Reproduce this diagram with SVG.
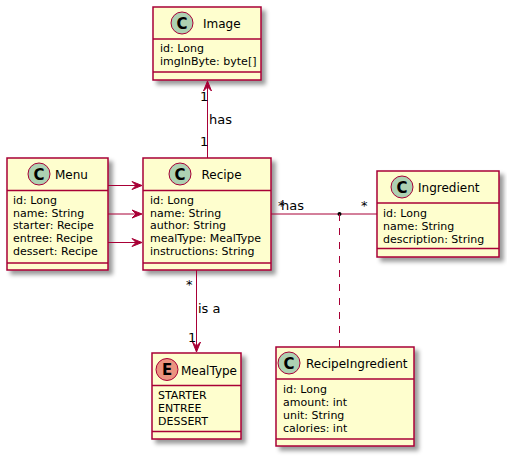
<svg xmlns="http://www.w3.org/2000/svg" width="507" height="459" viewBox="0 0 507 459">
<defs>
<filter id="sh" x="-1" y="-1" width="300%" height="300%"><feGaussianBlur result="b1" stdDeviation="2"/><feColorMatrix type="matrix" in="b1" result="b2" values="0 0 0 0 0 0 0 0 0 0 0 0 0 0 0 0 0 0 .4 0"/><feOffset dx="4" dy="4" in="b2" result="b3"/><feBlend in="SourceGraphic" in2="b3" mode="normal"/></filter>
<style>
.box{fill:#FEFECE;stroke:#A80036;stroke-width:1.5;filter:url(#sh)}
.sep{stroke:#A80036;stroke-width:1.5}
.ci{fill:#ADD1B2;stroke:#A80036;stroke-width:1}
.ce{fill:#EB937F;stroke:#A80036;stroke-width:1}
.cl{font-family:"DejaVu Sans",sans-serif;font-size:15px;font-weight:bold;text-anchor:middle;fill:#000}
.nm{font-family:"DejaVu Sans",sans-serif;font-size:12px;fill:#000}
.at{font-family:"DejaVu Sans",sans-serif;font-size:11px;fill:#000}
.ln{stroke:#A80036;stroke-width:1;fill:none}
.dl{stroke:#A80036;stroke-width:1;fill:none;stroke-dasharray:7,7}
.ah{fill:#A80036;stroke:#A80036;stroke-width:1}
.lb{font-family:"DejaVu Sans",sans-serif;font-size:13px;fill:#000}
.ml{font-family:"DejaVu Sans",sans-serif;font-size:13px;fill:#000}
</style>
</defs>
<rect width="507" height="459" fill="#FFFFFF"/>

<g id="Image">
<rect class="box" x="153" y="7" width="108" height="73"/>
<circle class="ci" cx="182" cy="23" r="11"/>
<text class="cl" x="182" y="28.5">C</text>
<text class="nm" x="203" y="28">Image</text>
<line class="sep" x1="153" y1="39" x2="261" y2="39"/>
<text class="at" x="160" y="52">id: Long</text>
<text class="at" x="160" y="65">imgInByte: byte[]</text>
<line class="sep" x1="153" y1="72" x2="261" y2="72"/>
</g>

<g id="Menu">
<rect class="box" x="7" y="158" width="101" height="112"/>
<circle class="ci" cx="39" cy="174" r="11"/>
<text class="cl" x="39" y="179.5">C</text>
<text class="nm" x="55" y="179">Menu</text>
<line class="sep" x1="7" y1="190.5" x2="108" y2="190.5"/>
<text class="at" x="13" y="203.5">id: Long</text>
<text class="at" x="13" y="216.5">name: String</text>
<text class="at" x="13" y="229.4">starter: Recipe</text>
<text class="at" x="13" y="242.4">entree: Recipe</text>
<text class="at" x="13" y="255.3">dessert: Recipe</text>
<line class="sep" x1="7" y1="263" x2="108" y2="263"/>
</g>

<g id="Recipe">
<rect class="box" x="143" y="158" width="128" height="112"/>
<circle class="ci" cx="180" cy="174" r="11"/>
<text class="cl" x="180" y="179.5">C</text>
<text class="nm" x="201.5" y="179">Recipe</text>
<line class="sep" x1="143" y1="190.5" x2="271" y2="190.5"/>
<text class="at" x="150" y="203.5">id: Long</text>
<text class="at" x="150" y="216.5">name: String</text>
<text class="at" x="150" y="229.4">author: String</text>
<text class="at" x="150" y="242.4">mealType: MealType</text>
<text class="at" x="150" y="255.3">instructions: String</text>
<line class="sep" x1="143" y1="263" x2="271" y2="263"/>
</g>

<g id="Ingredient">
<rect class="box" x="377" y="171" width="122" height="86"/>
<circle class="ci" cx="402" cy="187" r="11"/>
<text class="cl" x="402" y="192.5">C</text>
<text class="nm" x="418" y="192">Ingredient</text>
<line class="sep" x1="377" y1="203" x2="499" y2="203"/>
<text class="at" x="383" y="216.5">id: Long</text>
<text class="at" x="383" y="229.5">name: String</text>
<text class="at" x="383" y="242.5">description: String</text>
<line class="sep" x1="377" y1="248.5" x2="499" y2="248.5"/>
</g>

<g id="RecipeIngredient">
<rect class="box" x="276" y="347" width="138" height="99"/>
<circle class="ci" cx="289" cy="363" r="11"/>
<text class="cl" x="289" y="368.5">C</text>
<text class="nm" x="306" y="368">RecipeIngredient</text>
<line class="sep" x1="276" y1="379" x2="414" y2="379"/>
<text class="at" x="283" y="392.5">id: Long</text>
<text class="at" x="283" y="405.5">amount: int</text>
<text class="at" x="283" y="418.5">unit: String</text>
<text class="at" x="283" y="431.5">calories: int</text>
<line class="sep" x1="276" y1="439" x2="414" y2="439"/>
</g>

<g id="MealType">
<rect class="box" x="152" y="353" width="89" height="86"/>
<circle class="ce" cx="167" cy="369.5" r="11"/>
<text class="cl" x="167" y="375">E</text>
<text class="nm" x="181" y="375">MealType</text>
<line class="sep" x1="152" y1="385.5" x2="241" y2="385.5"/>
<text class="at" x="158" y="399">STARTER</text>
<text class="at" x="158" y="412">ENTREE</text>
<text class="at" x="158" y="425">DESSERT</text>
<line class="sep" x1="152" y1="431.5" x2="241" y2="431.5"/>
</g>

<g id="connectors">
<line class="ln" x1="207.5" y1="82" x2="207.5" y2="158"/>
<polygon class="ah" points="207.5,81 203.5,91 207.5,87 211.5,91"/>
<text class="ml" x="200" y="101">1</text>
<text class="lb" x="209" y="124">has</text>
<text class="ml" x="200" y="146">1</text>

<line class="ln" x1="108" y1="185.5" x2="141" y2="185.5"/>
<polygon class="ah" points="142,185.5 132,181.5 136,185.5 132,189.5"/>
<line class="ln" x1="108" y1="214" x2="141" y2="214"/>
<polygon class="ah" points="142,214 132,210 136,214 132,218"/>
<line class="ln" x1="108" y1="242.5" x2="141" y2="242.5"/>
<polygon class="ah" points="142,242.5 132,238.5 136,242.5 132,246.5"/>

<line class="ln" x1="271" y1="214" x2="377" y2="214"/>
<circle cx="339.5" cy="214" r="2" fill="#000"/>
<line class="dl" x1="339.5" y1="214" x2="339.5" y2="347"/>
<text class="ml" x="278" y="210">*</text>
<text class="lb" x="281" y="209.5">has</text>
<text class="ml" x="361" y="210">*</text>

<line class="ln" x1="196.5" y1="270" x2="196.5" y2="351"/>
<polygon class="ah" points="196.5,352 192.5,342 196.5,346 200.5,342"/>
<text class="ml" x="186" y="289">*</text>
<text class="lb" x="198" y="313">is a</text>
<text class="ml" x="188" y="342">1</text>
</g>
</svg>
